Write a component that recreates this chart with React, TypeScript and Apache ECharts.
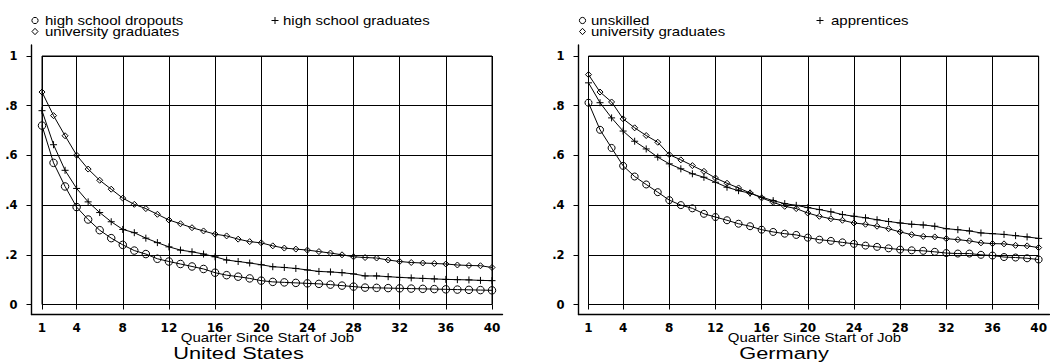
import React, { useEffect, useRef } from "react";
import * as echarts from "echarts";

const quarters = [
  "1", "2", "3", "4", "5", "6", "7", "8", "9", "10",
  "11", "12", "13", "14", "15", "16", "17", "18", "19", "20",
  "21", "22", "23", "24", "25", "26", "27", "28", "29", "30",
  "31", "32", "33", "34", "35", "36", "37", "38", "39", "40",
];
const tickQuarters = ["1", "4", "8", "12", "16", "20", "24", "28", "32", "36", "40"];
const yTickLabels = ["0", ".2", ".4", ".6", ".8", "1"];

// United States
const usDropouts = [
  0.72, 0.57, 0.475, 0.392, 0.342, 0.299, 0.267, 0.24, 0.217, 0.203,
  0.184, 0.173, 0.163, 0.153, 0.143, 0.128, 0.118, 0.112, 0.105, 0.096,
  0.091, 0.089, 0.087, 0.085, 0.083, 0.08, 0.076, 0.072, 0.068, 0.067,
  0.066, 0.065, 0.064, 0.063, 0.062, 0.061, 0.06, 0.059, 0.058, 0.057,
];
const usHsGraduates = [
  0.78, 0.643, 0.54, 0.467, 0.413, 0.37, 0.333, 0.302, 0.289, 0.267,
  0.249, 0.232, 0.219, 0.212, 0.203, 0.192, 0.179, 0.173, 0.167, 0.16,
  0.152, 0.149, 0.145, 0.139, 0.133, 0.131, 0.128, 0.123, 0.115, 0.115,
  0.112, 0.109, 0.107, 0.105, 0.103, 0.101, 0.1, 0.099, 0.097, 0.096,
];
const usUniversity = [
  0.855, 0.76, 0.679, 0.601, 0.545, 0.5, 0.464, 0.428, 0.403, 0.386,
  0.363, 0.34, 0.325, 0.309, 0.296, 0.283, 0.276, 0.263, 0.253, 0.248,
  0.236, 0.227, 0.223, 0.219, 0.213, 0.207, 0.2, 0.192, 0.189, 0.187,
  0.179, 0.173, 0.169, 0.167, 0.165, 0.163, 0.159, 0.157, 0.156, 0.149,
];

// Germany
const deUnskilled = [
  0.812, 0.703, 0.63, 0.558, 0.515, 0.483, 0.452, 0.42, 0.4, 0.387,
  0.365, 0.352, 0.339, 0.325, 0.315, 0.301, 0.292, 0.285, 0.28, 0.269,
  0.261, 0.256, 0.25, 0.244, 0.237, 0.232, 0.226, 0.221, 0.218, 0.216,
  0.212, 0.207, 0.205, 0.205, 0.2, 0.197, 0.191, 0.189, 0.186, 0.181,
];
const deApprentices = [
  0.892, 0.812, 0.751, 0.698, 0.657, 0.626, 0.593, 0.566, 0.546, 0.526,
  0.512, 0.492, 0.472, 0.458, 0.448, 0.432, 0.418, 0.406, 0.399, 0.39,
  0.382, 0.373, 0.362, 0.355, 0.349, 0.341, 0.334, 0.328, 0.323, 0.32,
  0.315, 0.305, 0.301, 0.296, 0.288, 0.285, 0.282, 0.277, 0.272, 0.266,
];
const deUniversity = [
  0.925, 0.855, 0.815, 0.747, 0.711, 0.68, 0.653, 0.603, 0.582, 0.559,
  0.536, 0.509, 0.488, 0.469, 0.449, 0.429, 0.411, 0.395, 0.386, 0.368,
  0.355, 0.345, 0.339, 0.328, 0.323, 0.315, 0.305, 0.292, 0.281, 0.274,
  0.272, 0.265, 0.261, 0.256, 0.248, 0.245, 0.244, 0.238, 0.236, 0.229,
];

const legendUS = ["high school dropouts", "high school graduates", "university graduates"];
const legendDE = ["unskilled", "apprentices", "university graduates"];
const xAxisTitle = "Quarter Since Start of Job";
const panelTitles = ["United States", "Germany"];

const PLUS = "path://M0,4L8,4M4,0L4,8";
const FONT = '"Liberation Sans", Arial, sans-serif';
const TICK_FONT = '"DejaVu Sans", sans-serif';

function isTick(index: number) {
  return tickQuarters.indexOf(quarters[index]) >= 0;
}

function line(name: string, data: number[], axis: number, symbol: string, size: number) {
  return {
    type: "line",
    name,
    data,
    xAxisIndex: axis,
    yAxisIndex: axis,
    symbol,
    symbolSize: size,
    showSymbol: true,
    silent: true,
    z: 5,
    lineStyle: { color: "#000", width: 1 },
    itemStyle: { color: "transparent", borderColor: "#000", borderWidth: 1 },
    emphasis: { disabled: true },
  };
}

function xAxis(gridIndex: number) {
  return {
    type: "category",
    gridIndex,
    data: quarters,
    boundaryGap: false,
    offset: 10,
    axisLine: { show: false },
    axisTick: { show: true, length: 5, interval: (i: number) => isTick(i), lineStyle: { color: "#000", width: 1 } },
    axisLabel: {
      interval: (i: number) => isTick(i),
      margin: 7,
      color: "#000",
      fontFamily: TICK_FONT,
      fontWeight: "bold",
      fontSize: 12,
    },
    splitLine: { show: true, interval: (i: number) => isTick(i), lineStyle: { color: "#000", width: 1 } },
  };
}

function yAxis(gridIndex: number, offset: number) {
  return {
    type: "value",
    gridIndex,
    min: 0,
    max: 1,
    interval: 0.2,
    offset,
    axisLine: { show: false },
    axisTick: { show: true, length: 5, lineStyle: { color: "#000", width: 1 } },
    axisLabel: {
      margin: 14,
      color: "#000",
      fontFamily: TICK_FONT,
      fontWeight: "bold",
      fontSize: 11.5,
      formatter: (v: number) => yTickLabels[Math.round(v / 0.2)],
    },
    splitLine: { show: true, lineStyle: { color: "#000", width: 1 } },
  };
}

// frame axes: only their axis lines are drawn (the outer L of each panel)
function frameAxis(gridIndex: number) {
  return {
    type: "value",
    gridIndex,
    min: 0,
    max: 1,
    axisLine: { show: true, onZero: false, lineStyle: { color: "#000", width: 1.4 } },
    axisTick: { show: false },
    axisLabel: { show: false },
    splitLine: { show: false },
  };
}

function txt(text: string, x: number, y: number, size: number, sx: number, align: string) {
  return {
    type: "text",
    x,
    y,
    scaleX: sx,
    silent: true,
    style: {
      text,
      font: `${size}px ${FONT}`,
      fill: "#000",
      textAlign: align,
      textVerticalAlign: "middle",
      align,
      verticalAlign: "middle",
    },
  };
}

function circleMark(cx: number, cy: number) {
  return { type: "circle", shape: { cx, cy, r: 3.1 }, style: { fill: "none", stroke: "#000", lineWidth: 1 }, silent: true };
}
function diamondMark(cx: number, cy: number) {
  return {
    type: "polygon",
    shape: { points: [[cx, cy - 3.2], [cx + 3, cy], [cx, cy + 3.2], [cx - 3, cy]] },
    style: { fill: "none", stroke: "#000", lineWidth: 1 },
    silent: true,
  };
}
function plusMark(cx: number, cy: number) {
  return {
    type: "group",
    silent: true,
    children: [
      { type: "line", shape: { x1: cx - 3.5, y1: cy, x2: cx + 3.5, y2: cy }, style: { stroke: "#000", lineWidth: 1 } },
      { type: "line", shape: { x1: cx, y1: cy - 3.5, x2: cx, y2: cy + 3.5 }, style: { stroke: "#000", lineWidth: 1 } },
    ],
  };
}

export default function App() {
  const ref = useRef<HTMLDivElement>(null);

  useEffect(() => {
    document.body.style.margin = "0";
    if (!ref.current) return;
    const chart = echarts.init(ref.current, null, { renderer: "svg" });
    chart.setOption({
      animation: false,
      backgroundColor: "#fff",
      grid: [
        { left: 42, top: 56, width: 450, height: 248.5, show: true, borderColor: "#000", borderWidth: 1 },
        { left: 588.5, top: 56, width: 451, height: 248.5, show: true, borderColor: "#000", borderWidth: 1 },
        { left: 31.5, top: 45, width: 471, height: 269.5 },
        { left: 578.5, top: 45, width: 471, height: 269.5 },
      ],
      xAxis: [xAxis(0), xAxis(1), frameAxis(2), frameAxis(3)],
      yAxis: [yAxis(0, 10.5), yAxis(1, 10), frameAxis(2), frameAxis(3)],
      series: [
        line(legendUS[0], usDropouts, 0, "circle", 7.5),
        line(legendUS[1], usHsGraduates, 0, PLUS, 7),
        line(legendUS[2], usUniversity, 0, "diamond", 6),
        line(legendDE[0], deUnskilled, 1, "circle", 7),
        line(legendDE[1], deApprentices, 1, PLUS, 7),
        line(legendDE[2], deUniversity, 1, "diamond", 6),
      ],
      graphic: [
        circleMark(35, 20.5),
        txt(legendUS[0], 45, 20.5, 12.5, 1.2, "left"),
        plusMark(275, 20.5),
        txt(legendUS[1], 283, 20.5, 12.5, 1.2, "left"),
        diamondMark(35, 31.5),
        txt(legendUS[2], 45, 31.5, 12.5, 1.2, "left"),
        circleMark(582.5, 20.5),
        txt(legendDE[0], 591, 20.5, 12.5, 1.2, "left"),
        plusMark(820, 20.5),
        txt(legendDE[1], 831, 20.5, 12.5, 1.2, "left"),
        diamondMark(582.5, 31.5),
        txt(legendDE[2], 591, 31.5, 12.5, 1.2, "left"),
        txt(xAxisTitle, 267.5, 337.5, 12.5, 1.2, "center"),
        txt(xAxisTitle, 814.5, 337.5, 12.5, 1.2, "center"),
        txt(panelTitles[0], 238.5, 353, 16.5, 1.32, "center"),
        txt(panelTitles[1], 784, 353, 16.5, 1.32, "center"),
      ],
    });
    return () => chart.dispose();
  }, []);

  return <div ref={ref} style={{ width: 1050, height: 363 }} />;
}
